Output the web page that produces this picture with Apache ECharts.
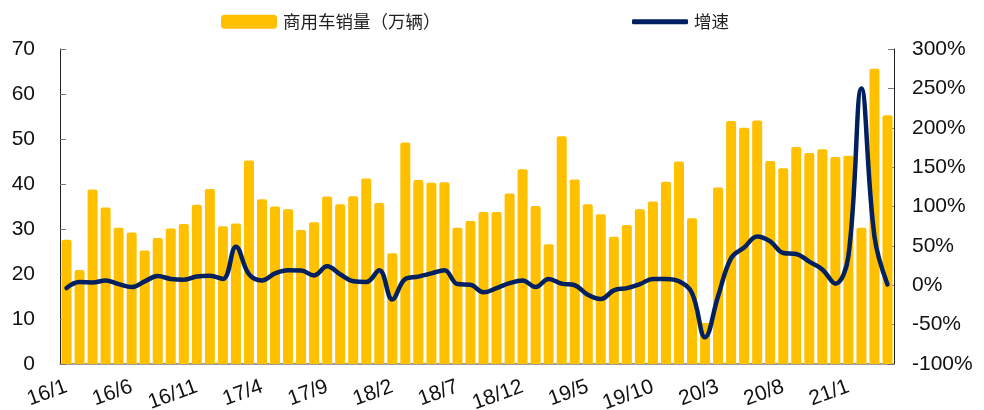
<!DOCTYPE html>
<html>
<head>
<meta charset="utf-8">
<script src="https://cdn.jsdelivr.net/npm/echarts@6/dist/echarts.min.js"></script>
<style>
html,body{margin:0;padding:0;background:#fff;}
#chart{width:984px;height:410px;}
</style>
</head>
<body>
<div id="chart"></div>
<script>
const categories = [
  '16/1','16/2','16/3','16/4','16/5','16/6','16/7','16/8','16/9','16/10','16/11','16/12',
  '17/1','17/2','17/3','17/4','17/5','17/6','17/7','17/8','17/9','17/10','17/11','17/12',
  '18/1','18/2','18/3','18/4','18/5','18/6','18/7','18/8','18/9','18/10','18/11','18/12',
  '19/1','19/2','19/3','19/4','19/5','19/6','19/7','19/8','19/9','19/10','19/11','19/12',
  '20/1','20/2','20/3','20/4','20/5','20/6','20/7','20/8','20/9','20/10','20/11','20/12',
  '21/1','21/2','21/3','21/4'
];
const salesName = '商用车销量（万辆）';
const growthName = '增速';
const sales = [
  27.6,20.9,38.8,34.8,30.3,29.2,25.2,28.0,30.1,31.1,35.4,38.9,
  30.6,31.2,45.2,36.6,35.0,34.4,29.8,31.5,37.2,35.5,37.3,41.2,
  35.8,24.6,49.2,40.9,40.3,40.4,30.3,31.8,33.8,33.8,37.9,43.3,
  35.1,26.6,50.6,41.0,35.5,33.3,28.3,30.9,34.4,36.1,40.5,45.0,
  32.4,9.1,39.2,54.0,52.5,54.1,45.1,43.5,48.2,46.9,47.7,46.0,
  46.3,30.3,65.6,55.3
];
const growth = [
  -3.6,4,3.6,6,1.5,-2.3,5,11.6,8,7,11,12,
  8,49,14,6,15,19,18.6,12.5,24,14,5,4,
  19,-18,8,11,15,19,1.5,0.6,-9,-3.6,2.7,6,
  -2.3,8,2,0,-12,-17.5,-6.5,-3.6,1.5,8,8,5,
  -10,-66,-14,34.5,48,62,55.7,41,39.7,30,20,2,
  37,250,62,1
];
const leftTicks = {min:0, max:70, interval:10};
const rightTicks = {min:-100, max:300, interval:50};

const chart = echarts.init(document.getElementById('chart'), null, {renderer:'canvas'});
const fontFamily = 'Liberation Sans, Arial, sans-serif';
const cjkFont = '"Noto Sans CJK SC", sans-serif';
chart.setOption({
  animation:false,
  backgroundColor:'#fff',
  legend:[
    {data:[salesName], left:221, top:13, padding:0, icon:'roundRect', itemWidth:56, itemHeight:14, itemGap:6,
     textStyle:{fontFamily:cjkFont, fontSize:17.5, color:'#222', padding:[0,0,0,1]}},
    {data:[growthName], left:632, top:13, padding:0, icon:'roundRect', itemWidth:56, itemHeight:5, itemGap:6,
     textStyle:{fontFamily:cjkFont, fontSize:17.5, color:'#222', padding:[0,0,0,1]}}
  ],
  grid:{left:60, right:90, top:49, bottom:46, containLabel:false, outerBoundsMode:'none'},
  xAxis:{
    type:'category', data:categories, boundaryGap:true,
    axisLine:{lineStyle:{color:'#7f7f7f', width:1.5}},
    axisTick:{inside:true, length:5, interval:0, lineStyle:{color:'#222'}},
    axisLabel:{interval:4, rotate:20, margin:22, fontFamily:fontFamily, fontSize:21, color:'#111'}
  },
  yAxis:[
    {type:'value', min:leftTicks.min, max:leftTicks.max, interval:leftTicks.interval,
     splitLine:{show:false},
     axisLine:{show:true, lineStyle:{color:'#222'}},
     axisTick:{show:true, inside:true, length:6, lineStyle:{color:'#777'}},
     axisLabel:{margin:25, fontFamily:fontFamily, fontSize:21, color:'#111'}},
    {type:'value', min:rightTicks.min, max:rightTicks.max, interval:rightTicks.interval,
     splitLine:{show:false},
     axisLine:{show:true, lineStyle:{color:'#222'}},
     axisTick:{show:true, inside:true, length:6, lineStyle:{color:'#777'}},
     axisLabel:{margin:18, fontFamily:fontFamily, fontSize:21, color:'#111', formatter:'{value}%'}}
  ],
  series:[
    {name:salesName, type:'bar', data:sales, yAxisIndex:0, barWidth:10,
     itemStyle:{color:'#FFC000', borderRadius:[2,2,0,0]}},
    {name:growthName, type:'line', data:growth, yAxisIndex:1, smooth:0.4,
     showSymbol:false, symbol:'none',
     lineStyle:{color:'#002060', width:4.5, cap:'round', join:'round'},
     itemStyle:{color:'#002060'}}
  ]
});
</script>
</body>
</html>
